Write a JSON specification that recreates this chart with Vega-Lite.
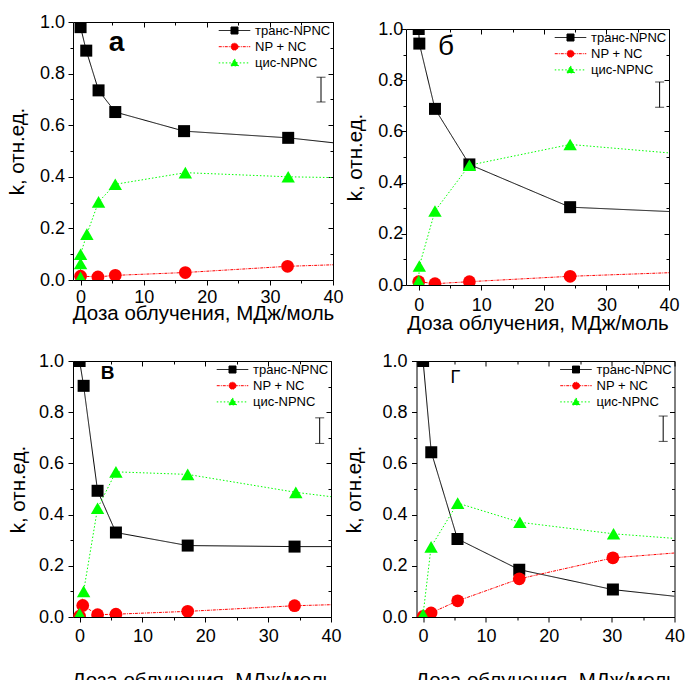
{
 "$schema": "https://vega.github.io/schema/vega-lite/v6.json",
 "padding": {"left": 6, "top": 12, "right": 0, "bottom": 0},
 "datasets": {
  "pts": [
   {"panel":"а","series":"транс-NPNC","x":0,"y":0.98,"kind":"p"},
   {"panel":"а","series":"транс-NPNC","x":0.9,"y":0.889,"kind":"p"},
   {"panel":"а","series":"транс-NPNC","x":2.85,"y":0.735,"kind":"p"},
   {"panel":"а","series":"транс-NPNC","x":5.5,"y":0.651,"kind":"p"},
   {"panel":"а","series":"транс-NPNC","x":16.4,"y":0.577,"kind":"p"},
   {"panel":"а","series":"транс-NPNC","x":32.9,"y":0.551,"kind":"p"},
   {"panel":"а","series":"транс-NPNC","x":40,"y":0.532,"kind":"e"},
   {"panel":"а","series":"NP + NC","x":0,"y":0.015,"kind":"p"},
   {"panel":"а","series":"NP + NC","x":2.75,"y":0.012,"kind":"p"},
   {"panel":"а","series":"NP + NC","x":5.5,"y":0.018,"kind":"p"},
   {"panel":"а","series":"NP + NC","x":16.6,"y":0.029,"kind":"p"},
   {"panel":"а","series":"NP + NC","x":32.8,"y":0.053,"kind":"p"},
   {"panel":"а","series":"NP + NC","x":40,"y":0.059,"kind":"e"},
   {"panel":"а","series":"цис-NPNC","x":0,"y":0.01,"kind":"p"},
   {"panel":"а","series":"цис-NPNC","x":0,"y":0.064,"kind":"p"},
   {"panel":"а","series":"цис-NPNC","x":0,"y":0.1,"kind":"p"},
   {"panel":"а","series":"цис-NPNC","x":1.0,"y":0.178,"kind":"p"},
   {"panel":"а","series":"цис-NPNC","x":2.85,"y":0.303,"kind":"p"},
   {"panel":"а","series":"цис-NPNC","x":5.5,"y":0.371,"kind":"p"},
   {"panel":"а","series":"цис-NPNC","x":16.6,"y":0.416,"kind":"p"},
   {"panel":"а","series":"цис-NPNC","x":32.9,"y":0.4,"kind":"p"},
   {"panel":"а","series":"цис-NPNC","x":40,"y":0.397,"kind":"e"},

   {"panel":"б","series":"транс-NPNC","x":0,"y":1.0,"kind":"p"},
   {"panel":"б","series":"транс-NPNC","x":0.1,"y":0.943,"kind":"p"},
   {"panel":"б","series":"транс-NPNC","x":2.6,"y":0.688,"kind":"p"},
   {"panel":"б","series":"транс-NPNC","x":8.1,"y":0.471,"kind":"p"},
   {"panel":"б","series":"транс-NPNC","x":24.2,"y":0.304,"kind":"p"},
   {"panel":"б","series":"транс-NPNC","x":40,"y":0.287,"kind":"e"},
   {"panel":"б","series":"NP + NC","x":0,"y":0.013,"kind":"p"},
   {"panel":"б","series":"NP + NC","x":2.6,"y":0.005,"kind":"p"},
   {"panel":"б","series":"NP + NC","x":8.1,"y":0.013,"kind":"p"},
   {"panel":"б","series":"NP + NC","x":24.2,"y":0.034,"kind":"p"},
   {"panel":"б","series":"NP + NC","x":40,"y":0.048,"kind":"e"},
   {"panel":"б","series":"цис-NPNC","x":0,"y":0.016,"kind":"p"},
   {"panel":"б","series":"цис-NPNC","x":0.1,"y":0.074,"kind":"p"},
   {"panel":"б","series":"цис-NPNC","x":2.6,"y":0.289,"kind":"p"},
   {"panel":"б","series":"цис-NPNC","x":8.1,"y":0.468,"kind":"p"},
   {"panel":"б","series":"цис-NPNC","x":24.2,"y":0.549,"kind":"p"},
   {"panel":"б","series":"цис-NPNC","x":40,"y":0.516,"kind":"e"},

   {"panel":"в","series":"транс-NPNC","x":0,"y":1.0,"kind":"p"},
   {"panel":"в","series":"транс-NPNC","x":0.64,"y":0.903,"kind":"p"},
   {"panel":"в","series":"транс-NPNC","x":2.86,"y":0.493,"kind":"p"},
   {"panel":"в","series":"транс-NPNC","x":5.78,"y":0.33,"kind":"p"},
   {"panel":"в","series":"транс-NPNC","x":17.2,"y":0.279,"kind":"p"},
   {"panel":"в","series":"транс-NPNC","x":34.2,"y":0.275,"kind":"p"},
   {"panel":"в","series":"транс-NPNC","x":40,"y":0.275,"kind":"e"},
   {"panel":"в","series":"NP + NC","x":0,"y":0.003,"kind":"p"},
   {"panel":"в","series":"NP + NC","x":0.5,"y":0.045,"kind":"p"},
   {"panel":"в","series":"NP + NC","x":2.86,"y":0.009,"kind":"p"},
   {"panel":"в","series":"NP + NC","x":5.78,"y":0.011,"kind":"p"},
   {"panel":"в","series":"NP + NC","x":17.2,"y":0.022,"kind":"p"},
   {"panel":"в","series":"NP + NC","x":34.2,"y":0.044,"kind":"p"},
   {"panel":"в","series":"NP + NC","x":40,"y":0.048,"kind":"e"},
   {"panel":"в","series":"цис-NPNC","x":0,"y":0.012,"kind":"p"},
   {"panel":"в","series":"цис-NPNC","x":0.64,"y":0.1,"kind":"p"},
   {"panel":"в","series":"цис-NPNC","x":2.86,"y":0.425,"kind":"p"},
   {"panel":"в","series":"цис-NPNC","x":5.78,"y":0.567,"kind":"p"},
   {"panel":"в","series":"цис-NPNC","x":17.2,"y":0.557,"kind":"p"},
   {"panel":"в","series":"цис-NPNC","x":34.4,"y":0.487,"kind":"p"},
   {"panel":"в","series":"цис-NPNC","x":40,"y":0.47,"kind":"e"},

   {"panel":"г","series":"транс-NPNC","x":0,"y":1.0,"kind":"p"},
   {"panel":"г","series":"транс-NPNC","x":1.3,"y":0.644,"kind":"p"},
   {"panel":"г","series":"транс-NPNC","x":5.47,"y":0.305,"kind":"p"},
   {"panel":"г","series":"транс-NPNC","x":15.3,"y":0.185,"kind":"p"},
   {"panel":"г","series":"транс-NPNC","x":30.2,"y":0.107,"kind":"p"},
   {"panel":"г","series":"транс-NPNC","x":40,"y":0.081,"kind":"e"},
   {"panel":"г","series":"NP + NC","x":0,"y":0.002,"kind":"p"},
   {"panel":"г","series":"NP + NC","x":1.27,"y":0.016,"kind":"p"},
   {"panel":"г","series":"NP + NC","x":5.5,"y":0.063,"kind":"p"},
   {"panel":"г","series":"NP + NC","x":15.3,"y":0.149,"kind":"p"},
   {"panel":"г","series":"NP + NC","x":30.2,"y":0.231,"kind":"p"},
   {"panel":"г","series":"NP + NC","x":40,"y":0.25,"kind":"e"},
   {"panel":"г","series":"цис-NPNC","x":0,"y":0.01,"kind":"p"},
   {"panel":"г","series":"цис-NPNC","x":1.27,"y":0.274,"kind":"p"},
   {"panel":"г","series":"цис-NPNC","x":5.5,"y":0.445,"kind":"p"},
   {"panel":"г","series":"цис-NPNC","x":15.4,"y":0.37,"kind":"p"},
   {"panel":"г","series":"цис-NPNC","x":30.3,"y":0.325,"kind":"p"},
   {"panel":"г","series":"цис-NPNC","x":40,"y":0.307,"kind":"e"}
  ],
  "err": [
   {"panel":"а","x":38.1,"lo":0.69,"hi":0.786},
   {"panel":"б","x":38.5,"lo":0.694,"hi":0.793},
   {"panel":"в","x":38.2,"lo":0.678,"hi":0.778},
   {"panel":"г","x":38.2,"lo":0.686,"hi":0.785}
  ]
 },
 "vconcat": [
  {
   "hconcat": [
    {
     "width": 260, "height": 258,
     "layer": [
      {"data": {"name":"pts"}, "transform": [{"filter":"datum.panel === 'а'"}],
       "mark": {"type":"line","clip":true,"strokeWidth":1},
       "encoding": {
        "x": {"field":"x","type":"quantitative","scale":{"domain":[-1.2,40],"nice":false,"zero":false},
              "axis":{"orient":"bottom","values":[0,5,10,15,20,25,30,35,40],"labelExpr":"datum.value % 10 === 0 ? format(datum.value, 'd') : ''","tickSize":{"condition":{"test":"datum.value % 10 !== 0","value":3},"value":5},"labelPadding":3,"titlePadding":-3,"title":"Доза облучения, МДж/моль","domain":false}},
        "y": {"field":"y","type":"quantitative","scale":{"domain":[0,1],"nice":false,"zero":false},
              "axis":{"orient":"left","values":[0,0.1,0.2,0.3,0.4,0.5,0.6,0.7,0.8,0.9,1.0],"labelExpr":"round(datum.value*10) % 2 === 0 ? format(datum.value, '.1f') : ''","tickSize":{"condition":{"test":"round(datum.value*10) % 2 === 1","value":3},"value":5},"labelPadding":3.5,"titlePadding":12,"title":"k, отн.ед.","domain":false}},
        "color": {"field":"series","type":"nominal","scale":{"domain":["транс-NPNC","NP + NC","цис-NPNC"],"range":["#000000","#ff0000","#00ff00"]},
                  "legend":{"title":null,
                   "encode":{"symbols":{"update":{"shape":{"signal":"datum.value === 'транс-NPNC' ? 'M-4.5,0H4.5M-1,-1H1V1H-1Z' : datum.value === 'NP + NC' ? 'M-4.5,0H4.5M1,0A1,1,0,1,1,-1,0A1,1,0,1,1,1,0Z' : 'M-4.5,0H4.5M0,-1.15L1.15,0.85H-1.15Z'"},"fill":{"signal":"datum.value === 'транс-NPNC' ? '#000000' : datum.value === 'NP + NC' ? '#ff0000' : '#00ff00'"},"stroke":{"signal":"datum.value === 'транс-NPNC' ? '#000000' : datum.value === 'NP + NC' ? '#ff0000' : '#00ff00'"},"strokeDash":{"signal":"datum.value === 'транс-NPNC' ? [1,0] : datum.value === 'NP + NC' ? [2,1] : [1,1.5]"},"size":{"value":49},"strokeWidth":{"value":1},"opacity":{"value":1}}}}}},
        "strokeDash": {"field":"series","type":"nominal","scale":{"domain":["транс-NPNC","NP + NC","цис-NPNC"],"range":[[1,0],[3,1,1,1],[1.5,2]]},"legend":null}
       }},
      {"data": {"name":"pts"}, "transform": [{"filter":"datum.panel === 'а' && datum.kind === 'p'"}],
       "mark": {"type":"point","filled":true,"opacity":1,"clip":true,"strokeWidth":0},
       "encoding": {
        "x": {"field":"x","type":"quantitative","axis":null},
        "y": {"field":"y","type":"quantitative","axis":null},
        "fill": {"field":"series","type":"nominal","scale":{"domain":["цис-NPNC","NP + NC","транс-NPNC"],"range":["#00ff00","#ff0000","#000000"]},"legend":null},
        "shape": {"field":"series","type":"nominal","scale":{"domain":["цис-NPNC","NP + NC","транс-NPNC"],"range":["triangle-up","circle","square"]},"legend":null},
        "size": {"field":"series","type":"nominal","scale":{"domain":["цис-NPNC","NP + NC","транс-NPNC"],"range":[180,144,121]},"legend":null}
       }},
      {"data": {"name":"err"}, "transform": [{"filter":"datum.panel === 'а'"}],
       "mark": {"type":"rule","color":"#000000","strokeWidth":1},
       "encoding": {
        "x": {"field":"x","type":"quantitative","axis":{"orient":"top","values":[0,5,10,15,20,25,30,35,40],"labels":false,"domain":false,"title":null,"tickSize":{"condition":{"test":"datum.value % 10 !== 0","value":-3},"value":-5}}},
        "y": {"field":"lo","type":"quantitative","axis":{"orient":"right","values":[0,0.1,0.2,0.3,0.4,0.5,0.6,0.7,0.8,0.9,1.0],"labels":false,"domain":false,"title":null,"tickSize":{"condition":{"test":"round(datum.value*10) % 2 === 1","value":-3},"value":-5}}},
        "y2": {"field":"hi"}
       }},
      {"data": {"name":"err"}, "transform": [{"filter":"datum.panel === 'а'"}],
       "mark": {"type":"tick","color":"#000000","orient":"horizontal","size":9,"thickness":1},
       "encoding": {"x": {"field":"x","type":"quantitative","axis":null},"y": {"field":"lo","type":"quantitative","axis":null}}},
      {"data": {"name":"err"}, "transform": [{"filter":"datum.panel === 'а'"}],
       "mark": {"type":"tick","color":"#000000","orient":"horizontal","size":9,"thickness":1},
       "encoding": {"x": {"field":"x","type":"quantitative","axis":null},"y": {"field":"hi","type":"quantitative","axis":null}}},
      {"data": {"values":[{}]},
       "mark": {"type":"text","text":"а","font":"Liberation Sans","fontSize":28,"fontWeight":"bold","align":"center","baseline":"alphabetic","color":"#000000"},
       "encoding": {"x": {"datum":5.7,"type":"quantitative","axis":null},"y": {"datum":0.887,"type":"quantitative","axis":null}}}
     ],
     "resolve": {"axis": {"x":"independent","y":"independent"}}
    },
    {
     "vconcat": [
      {"width": 263, "height": 7, "data": {"values": []}, "mark": "point", "view": {"stroke": "transparent"}},
      {
       "width": 263, "height": 256,
       "layer": [
        {"data": {"name":"pts"}, "transform": [{"filter":"datum.panel === 'б'"}],
         "mark": {"type":"line","clip":true,"strokeWidth":1},
         "encoding": {
          "x": {"field":"x","type":"quantitative","scale":{"domain":[-2.03,40],"nice":false,"zero":false},
                "axis":{"orient":"bottom","values":[0,5,10,15,20,25,30,35,40],"labelExpr":"datum.value % 10 === 0 ? format(datum.value, 'd') : ''","tickSize":{"condition":{"test":"datum.value % 10 !== 0","value":3},"value":5},"labelPadding":6.5,"titlePadding":-1,"title":"Доза облучения, МДж/моль","domain":false}},
          "y": {"field":"y","type":"quantitative","scale":{"domain":[0,1],"nice":false,"zero":false},
                "axis":{"orient":"left","values":[0,0.1,0.2,0.3,0.4,0.5,0.6,0.7,0.8,0.9,1.0],"labelExpr":"round(datum.value*10) % 2 === 0 ? format(datum.value, '.1f') : ''","tickSize":{"condition":{"test":"round(datum.value*10) % 2 === 1","value":3},"value":5},"labelPadding":-1.7,"titlePadding":12.5,"title":"k, отн.ед.","domain":false}},
          "color": {"field":"series","type":"nominal","scale":{"domain":["транс-NPNC","NP + NC","цис-NPNC"],"range":["#000000","#ff0000","#00ff00"]},
                    "legend":{"title":null,
                     "encode":{"symbols":{"update":{"shape":{"signal":"datum.value === 'транс-NPNC' ? 'M-4.5,0H4.5M-1,-1H1V1H-1Z' : datum.value === 'NP + NC' ? 'M-4.5,0H4.5M1,0A1,1,0,1,1,-1,0A1,1,0,1,1,1,0Z' : 'M-4.5,0H4.5M0,-1.15L1.15,0.85H-1.15Z'"},"fill":{"signal":"datum.value === 'транс-NPNC' ? '#000000' : datum.value === 'NP + NC' ? '#ff0000' : '#00ff00'"},"stroke":{"signal":"datum.value === 'транс-NPNC' ? '#000000' : datum.value === 'NP + NC' ? '#ff0000' : '#00ff00'"},"strokeDash":{"signal":"datum.value === 'транс-NPNC' ? [1,0] : datum.value === 'NP + NC' ? [2,1] : [1,1.5]"},"size":{"value":49},"strokeWidth":{"value":1},"opacity":{"value":1}}}}}},
          "strokeDash": {"field":"series","type":"nominal","scale":{"domain":["транс-NPNC","NP + NC","цис-NPNC"],"range":[[1,0],[3,1,1,1],[1.5,2]]},"legend":null}
         }},
        {"data": {"name":"pts"}, "transform": [{"filter":"datum.panel === 'б' && datum.kind === 'p'"}],
         "mark": {"type":"point","filled":true,"opacity":1,"clip":true,"strokeWidth":0},
         "encoding": {
          "x": {"field":"x","type":"quantitative","axis":null},
          "y": {"field":"y","type":"quantitative","axis":null},
          "fill": {"field":"series","type":"nominal","scale":{"domain":["цис-NPNC","NP + NC","транс-NPNC"],"range":["#00ff00","#ff0000","#000000"]},"legend":null},
          "shape": {"field":"series","type":"nominal","scale":{"domain":["цис-NPNC","NP + NC","транс-NPNC"],"range":["triangle-up","circle","square"]},"legend":null},
          "size": {"field":"series","type":"nominal","scale":{"domain":["цис-NPNC","NP + NC","транс-NPNC"],"range":[180,144,121]},"legend":null}
         }},
        {"data": {"name":"err"}, "transform": [{"filter":"datum.panel === 'б'"}],
         "mark": {"type":"rule","color":"#000000","strokeWidth":1},
         "encoding": {
          "x": {"field":"x","type":"quantitative","axis":{"orient":"top","values":[0,5,10,15,20,25,30,35,40],"labels":false,"domain":false,"title":null,"tickSize":{"condition":{"test":"datum.value % 10 !== 0","value":-3},"value":-5}}},
          "y": {"field":"lo","type":"quantitative","axis":{"orient":"right","values":[0,0.1,0.2,0.3,0.4,0.5,0.6,0.7,0.8,0.9,1.0],"labels":false,"domain":false,"title":null,"tickSize":{"condition":{"test":"round(datum.value*10) % 2 === 1","value":-3},"value":-5}}},
          "y2": {"field":"hi"}
         }},
        {"data": {"name":"err"}, "transform": [{"filter":"datum.panel === 'б'"}],
         "mark": {"type":"tick","color":"#000000","orient":"horizontal","size":9,"thickness":1},
         "encoding": {"x": {"field":"x","type":"quantitative","axis":null},"y": {"field":"lo","type":"quantitative","axis":null}}},
        {"data": {"name":"err"}, "transform": [{"filter":"datum.panel === 'б'"}],
         "mark": {"type":"tick","color":"#000000","orient":"horizontal","size":9,"thickness":1},
         "encoding": {"x": {"field":"x","type":"quantitative","axis":null},"y": {"field":"hi","type":"quantitative","axis":null}}},
        {"data": {"values":[{}]},
         "mark": {"type":"text","text":"б","font":"Liberation Sans","fontSize":28,"fontWeight":"normal","align":"center","baseline":"alphabetic","color":"#000000"},
         "encoding": {"x": {"datum":4.35,"type":"quantitative","axis":null},"y": {"datum":0.9,"type":"quantitative","axis":null}}}
       ],
       "resolve": {"axis": {"x":"independent","y":"independent"}}
      }
     ],
     "spacing": 0, "bounds": "flush",
     "resolve": {"scale": {"color":"independent","fill":"independent","shape":"independent","strokeDash":"independent","size":"independent"},"legend": {"color":"independent","fill":"independent","shape":"independent","strokeDash":"independent","size":"independent"}}
    }
   ],
   "spacing": 0,
   "resolve": {"scale": {"color":"independent","fill":"independent","shape":"independent","strokeDash":"independent","size":"independent"},"legend": {"color":"independent","fill":"independent","shape":"independent","strokeDash":"independent","size":"independent"}}
  },
  {
   "hconcat": [
    {
     "width": 258, "height": 256,
     "layer": [
      {"data": {"name":"pts"}, "transform": [{"filter":"datum.panel === 'в'"}],
       "mark": {"type":"line","clip":true,"strokeWidth":1},
       "encoding": {
        "x": {"field":"x","type":"quantitative","scale":{"domain":[-1.05,40],"nice":false,"zero":false},
              "axis":{"orient":"bottom","values":[0,5,10,15,20,25,30,35,40],"labelExpr":"datum.value % 10 === 0 ? format(datum.value, 'd') : ''","tickSize":{"condition":{"test":"datum.value % 10 !== 0","value":3},"value":5},"labelPadding":5,"titlePadding":25,"title":"Доза облучения, МДж/моль","domain":false}},
        "y": {"field":"y","type":"quantitative","scale":{"domain":[0,1],"nice":false,"zero":false},
              "axis":{"orient":"left","values":[0,0.1,0.2,0.3,0.4,0.5,0.6,0.7,0.8,0.9,1.0],"labelExpr":"round(datum.value*10) % 2 === 0 ? format(datum.value, '.1f') : ''","tickSize":{"condition":{"test":"round(datum.value*10) % 2 === 1","value":3},"value":5},"labelPadding":4.4,"titlePadding":10.3,"title":"k, отн.ед.","domain":false}},
        "color": {"field":"series","type":"nominal","scale":{"domain":["транс-NPNC","NP + NC","цис-NPNC"],"range":["#000000","#ff0000","#00ff00"]},
                  "legend":{"title":null,
                   "encode":{"symbols":{"update":{"shape":{"signal":"datum.value === 'транс-NPNC' ? 'M-4.5,0H4.5M-1,-1H1V1H-1Z' : datum.value === 'NP + NC' ? 'M-4.5,0H4.5M1,0A1,1,0,1,1,-1,0A1,1,0,1,1,1,0Z' : 'M-4.5,0H4.5M0,-1.15L1.15,0.85H-1.15Z'"},"fill":{"signal":"datum.value === 'транс-NPNC' ? '#000000' : datum.value === 'NP + NC' ? '#ff0000' : '#00ff00'"},"stroke":{"signal":"datum.value === 'транс-NPNC' ? '#000000' : datum.value === 'NP + NC' ? '#ff0000' : '#00ff00'"},"strokeDash":{"signal":"datum.value === 'транс-NPNC' ? [1,0] : datum.value === 'NP + NC' ? [2,1] : [1,1.5]"},"size":{"value":49},"strokeWidth":{"value":1},"opacity":{"value":1}}}}}},
        "strokeDash": {"field":"series","type":"nominal","scale":{"domain":["транс-NPNC","NP + NC","цис-NPNC"],"range":[[1,0],[3,1,1,1],[1.5,2]]},"legend":null}
       }},
      {"data": {"name":"pts"}, "transform": [{"filter":"datum.panel === 'в' && datum.kind === 'p'"}],
       "mark": {"type":"point","filled":true,"opacity":1,"clip":true,"strokeWidth":0},
       "encoding": {
        "x": {"field":"x","type":"quantitative","axis":null},
        "y": {"field":"y","type":"quantitative","axis":null},
        "fill": {"field":"series","type":"nominal","scale":{"domain":["цис-NPNC","NP + NC","транс-NPNC"],"range":["#00ff00","#ff0000","#000000"]},"legend":null},
        "shape": {"field":"series","type":"nominal","scale":{"domain":["цис-NPNC","NP + NC","транс-NPNC"],"range":["triangle-up","circle","square"]},"legend":null},
        "size": {"field":"series","type":"nominal","scale":{"domain":["цис-NPNC","NP + NC","транс-NPNC"],"range":[180,144,121]},"legend":null}
       }},
      {"data": {"name":"err"}, "transform": [{"filter":"datum.panel === 'в'"}],
       "mark": {"type":"rule","color":"#000000","strokeWidth":1},
       "encoding": {
        "x": {"field":"x","type":"quantitative","axis":{"orient":"top","values":[0,5,10,15,20,25,30,35,40],"labels":false,"domain":false,"title":null,"tickSize":{"condition":{"test":"datum.value % 10 !== 0","value":-3},"value":-5}}},
        "y": {"field":"lo","type":"quantitative","axis":{"orient":"right","values":[0,0.1,0.2,0.3,0.4,0.5,0.6,0.7,0.8,0.9,1.0],"labels":false,"domain":false,"title":null,"tickSize":{"condition":{"test":"round(datum.value*10) % 2 === 1","value":-3},"value":-5}}},
        "y2": {"field":"hi"}
       }},
      {"data": {"name":"err"}, "transform": [{"filter":"datum.panel === 'в'"}],
       "mark": {"type":"tick","color":"#000000","orient":"horizontal","size":9,"thickness":1},
       "encoding": {"x": {"field":"x","type":"quantitative","axis":null},"y": {"field":"lo","type":"quantitative","axis":null}}},
      {"data": {"name":"err"}, "transform": [{"filter":"datum.panel === 'в'"}],
       "mark": {"type":"tick","color":"#000000","orient":"horizontal","size":9,"thickness":1},
       "encoding": {"x": {"field":"x","type":"quantitative","axis":null},"y": {"field":"hi","type":"quantitative","axis":null}}},
      {"data": {"values":[{}]},
       "mark": {"type":"text","text":"В","font":"Liberation Sans","fontSize":19,"fontWeight":"bold","align":"center","baseline":"alphabetic","color":"#000000"},
       "encoding": {"x": {"datum":4.45,"type":"quantitative","axis":null},"y": {"datum":0.931,"type":"quantitative","axis":null}}}
     ],
     "resolve": {"axis": {"x":"independent","y":"independent"}}
    },
    {
     "width": 258, "height": 256,
     "layer": [
      {"data": {"name":"pts"}, "transform": [{"filter":"datum.panel === 'г'"}],
       "mark": {"type":"line","clip":true,"strokeWidth":1},
       "encoding": {
        "x": {"field":"x","type":"quantitative","scale":{"domain":[-1.05,40],"nice":false,"zero":false},
              "axis":{"orient":"bottom","values":[0,5,10,15,20,25,30,35,40],"labelExpr":"datum.value % 10 === 0 ? format(datum.value, 'd') : ''","tickSize":{"condition":{"test":"datum.value % 10 !== 0","value":3},"value":5},"labelPadding":5,"titlePadding":25,"title":"Доза облучения, МДж/моль","domain":false}},
        "y": {"field":"y","type":"quantitative","scale":{"domain":[0,1],"nice":false,"zero":false},
              "axis":{"orient":"left","values":[0,0.1,0.2,0.3,0.4,0.5,0.6,0.7,0.8,0.9,1.0],"labelExpr":"round(datum.value*10) % 2 === 0 ? format(datum.value, '.1f') : ''","tickSize":{"condition":{"test":"round(datum.value*10) % 2 === 1","value":3},"value":5},"labelPadding":4.4,"titlePadding":17.3,"title":"k, отн.ед.","domain":false}},
        "color": {"field":"series","type":"nominal","scale":{"domain":["транс-NPNC","NP + NC","цис-NPNC"],"range":["#000000","#ff0000","#00ff00"]},
                  "legend":{"title":null,
                   "encode":{"symbols":{"update":{"shape":{"signal":"datum.value === 'транс-NPNC' ? 'M-4.5,0H4.5M-1,-1H1V1H-1Z' : datum.value === 'NP + NC' ? 'M-4.5,0H4.5M1,0A1,1,0,1,1,-1,0A1,1,0,1,1,1,0Z' : 'M-4.5,0H4.5M0,-1.15L1.15,0.85H-1.15Z'"},"fill":{"signal":"datum.value === 'транс-NPNC' ? '#000000' : datum.value === 'NP + NC' ? '#ff0000' : '#00ff00'"},"stroke":{"signal":"datum.value === 'транс-NPNC' ? '#000000' : datum.value === 'NP + NC' ? '#ff0000' : '#00ff00'"},"strokeDash":{"signal":"datum.value === 'транс-NPNC' ? [1,0] : datum.value === 'NP + NC' ? [2,1] : [1,1.5]"},"size":{"value":49},"strokeWidth":{"value":1},"opacity":{"value":1}}}}}},
        "strokeDash": {"field":"series","type":"nominal","scale":{"domain":["транс-NPNC","NP + NC","цис-NPNC"],"range":[[1,0],[3,1,1,1],[1.5,2]]},"legend":null}
       }},
      {"data": {"name":"pts"}, "transform": [{"filter":"datum.panel === 'г' && datum.kind === 'p'"}],
       "mark": {"type":"point","filled":true,"opacity":1,"clip":true,"strokeWidth":0},
       "encoding": {
        "x": {"field":"x","type":"quantitative","axis":null},
        "y": {"field":"y","type":"quantitative","axis":null},
        "fill": {"field":"series","type":"nominal","scale":{"domain":["цис-NPNC","NP + NC","транс-NPNC"],"range":["#00ff00","#ff0000","#000000"]},"legend":null},
        "shape": {"field":"series","type":"nominal","scale":{"domain":["цис-NPNC","NP + NC","транс-NPNC"],"range":["triangle-up","circle","square"]},"legend":null},
        "size": {"field":"series","type":"nominal","scale":{"domain":["цис-NPNC","NP + NC","транс-NPNC"],"range":[180,144,121]},"legend":null}
       }},
      {"data": {"name":"err"}, "transform": [{"filter":"datum.panel === 'г'"}],
       "mark": {"type":"rule","color":"#000000","strokeWidth":1},
       "encoding": {
        "x": {"field":"x","type":"quantitative","axis":{"orient":"top","values":[0,5,10,15,20,25,30,35,40],"labels":false,"domain":false,"title":null,"tickSize":{"condition":{"test":"datum.value % 10 !== 0","value":-3},"value":-5}}},
        "y": {"field":"lo","type":"quantitative","axis":{"orient":"right","values":[0,0.1,0.2,0.3,0.4,0.5,0.6,0.7,0.8,0.9,1.0],"labels":false,"domain":false,"title":null,"tickSize":{"condition":{"test":"round(datum.value*10) % 2 === 1","value":-3},"value":-5}}},
        "y2": {"field":"hi"}
       }},
      {"data": {"name":"err"}, "transform": [{"filter":"datum.panel === 'г'"}],
       "mark": {"type":"tick","color":"#000000","orient":"horizontal","size":9,"thickness":1},
       "encoding": {"x": {"field":"x","type":"quantitative","axis":null},"y": {"field":"lo","type":"quantitative","axis":null}}},
      {"data": {"name":"err"}, "transform": [{"filter":"datum.panel === 'г'"}],
       "mark": {"type":"tick","color":"#000000","orient":"horizontal","size":9,"thickness":1},
       "encoding": {"x": {"field":"x","type":"quantitative","axis":null},"y": {"field":"hi","type":"quantitative","axis":null}}},
      {"data": {"values":[{}]},
       "mark": {"type":"text","text":"Г","font":"Liberation Sans","fontSize":18,"fontWeight":"normal","align":"center","baseline":"alphabetic","color":"#000000"},
       "encoding": {"x": {"datum":5.15,"type":"quantitative","axis":null},"y": {"datum":0.915,"type":"quantitative","axis":null}}}
     ],
     "resolve": {"axis": {"x":"independent","y":"independent"}}
    }
   ],
   "spacing": 1.5,
   "resolve": {"scale": {"color":"independent","fill":"independent","shape":"independent","strokeDash":"independent","size":"independent"},"legend": {"color":"independent","fill":"independent","shape":"independent","strokeDash":"independent","size":"independent"}}
  }
 ],
 "spacing": 16,
 "resolve": {"scale": {"color":"independent","fill":"independent","shape":"independent","strokeDash":"independent","size":"independent"},"legend": {"color":"independent","fill":"independent","shape":"independent","strokeDash":"independent","size":"independent"}},
 "config": {
  "background": "#ffffff",
  "view": {"stroke": "#000000", "strokeWidth": 1},
  "axis": {"labelFont": "Liberation Sans", "titleFont": "Liberation Sans", "labelFontSize": 18, "titleFontSize": 20.5, "titleFontWeight": "normal", "labelColor": "#000000", "titleColor": "#000000", "tickColor": "#000000", "tickWidth": 1, "grid": false, "labelOverlap": false, "labelFlush": false},
  "legend": {"orient": "top-right", "offset": 2, "padding": 0, "rowPadding": 2.2, "labelOffset": 14, "symbolSize": 49, "labelFontSize": 13, "labelFont": "Liberation Sans", "labelColor": "#000000"}
 }
}
